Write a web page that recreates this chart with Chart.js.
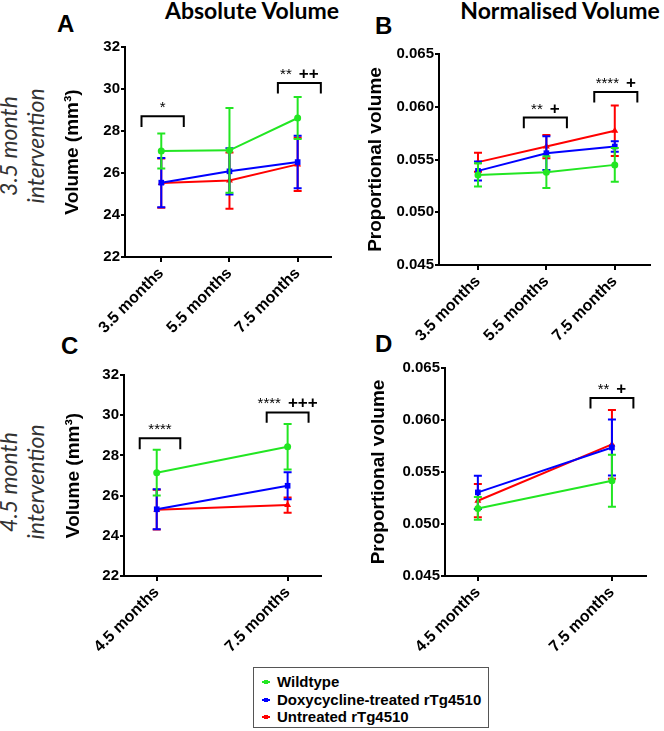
<!DOCTYPE html>
<html>
<head>
<meta charset="utf-8">
<script src="https://cdn.jsdelivr.net/npm/chart.js@4.4.1/dist/chart.umd.min.js"></script>
<style>
  html, body { margin: 0; padding: 0; background: #fff; }
  #fig { position: relative; width: 664px; height: 731px; overflow: hidden; font-family: 'Liberation Sans', Arial, sans-serif; color: #000; }
  #fig canvas { position: absolute; }
  .title { position: absolute; top: -1px; font-family: Lato, 'Liberation Sans', sans-serif; font-weight: bold; font-size: 23px; line-height: 1; white-space: nowrap; transform: translateX(-50%); }
  .letter { position: absolute; font-weight: bold; font-size: 24px; line-height: 1; }
  .row { position: absolute; font-family: Lato, 'Liberation Sans', sans-serif; font-style: italic; font-weight: normal; font-size: 23px; line-height: 27px; text-align: center; white-space: nowrap; color: #333; transform: translate(-50%, -50%) rotate(-90deg); }
  .legend { position: absolute; left: 253px; top: 667px; width: 236px; height: 61px; border: 1px solid #555; box-sizing: border-box; }
  .legend div { position: absolute; left: 23px; font-weight: bold; font-size: 15px; line-height: 18px; white-space: nowrap; }
  .legend i { position: absolute; left: -15px; top: 8px; width: 8px; height: 2px; }
  .legend i::after { content: ''; position: absolute; left: 2px; top: -1px; width: 4px; height: 4px; background: inherit; }
</style>
</head>
<body>
<div id="fig">
  <div class="title" style="left:252px">Absolute Volume</div>
  <div class="title" style="left:560px">Normalised Volume</div>
  <div class="letter" style="left:57px; top:12px">A</div>
  <div class="letter" style="left:375px; top:14px">B</div>
  <div class="letter" style="left:61px; top:334px">C</div>
  <div class="letter" style="left:375px; top:332px">D</div>
  <div class="row" style="left:22px; top:146px">3.5 month<br>intervention</div>
  <div class="row" style="left:22px; top:482px">4.5 month<br>intervention</div>

  <canvas id="chartA" width="274" height="310" style="left:61px; top:27px"></canvas>
  <canvas id="chartB" width="290" height="311" style="left:364px; top:34px"></canvas>
  <canvas id="chartC" width="263" height="301" style="left:62px; top:355px"></canvas>
  <canvas id="chartD" width="283" height="308" style="left:367px; top:348px"></canvas>

  <div class="legend" id="legend"></div>
</div>
<script>
// categories
const monthsAB = ['3.5 months', '5.5 months', '7.5 months'];
const monthsCD = ['4.5 months', '7.5 months'];
const seriesNames = ['Wildtype', 'Doxycycline-treated rTg4510', 'Untreated rTg4510'];
const colors = ['#22e622', '#0000ff', '#ff0000'];
const shapes = ['circle', 'rect', 'triangle'];

// tick values
const absTicks = [22, 24, 26, 28, 30, 32];
const propTicks = [0.045, 0.050, 0.055, 0.060, 0.065];

// A - absolute volume (mm3), 3.5 month intervention: means and SD
const aWild = [27.05, 27.08, 28.62];
const aWildSd = [0.83, 2.02, 1.0];
const aDoxy = [25.54, 26.08, 26.52];
const aDoxySd = [1.17, 1.1, 1.25];
const aUntr = [25.52, 25.64, 26.41];
const aUntrSd = [1.17, 1.34, 1.27];
// bracket: from, to (category units), top, leg end, stars, pluses
const aBrackets = [[-0.29, 0.33, 28.70, 28.19, '*', ''], [1.71, 2.34, 30.29, 29.78, '**', '++']];

// B - proportional volume, 3.5 month intervention
const bWild = [0.05354, 0.0538, 0.05449];
const bWildSd = [0.0011, 0.0015, 0.0016];
const bDoxy = [0.05392, 0.0556, 0.05623];
const bDoxySd = [0.0009, 0.0016, 0.0005];
const bUntr = [0.05475, 0.05623, 0.05772];
const bUntrSd = [0.0009, 0.0011, 0.0024];
const bBrackets = [[0.67, 1.30, 0.05898, 0.05797, '**', '+'], [1.70, 2.33, 0.06139, 0.0604, '****', '+']];

// C - absolute volume (mm3), 4.5 month intervention
const cWild = [27.14, 28.43];
const cWildSd = [1.14, 1.13];
const cDoxy = [25.32, 26.49];
const cDoxySd = [1.0, 0.67];
const cUntr = [25.3, 25.53];
const cUntrSd = [0.99, 0.38];
const cBrackets = [[-0.13, 0.18, 28.85, 28.30, '****', ''], [0.84, 1.16, 30.14, 29.63, '****', '+++']];

// D - proportional volume, 4.5 month intervention
const dWild = [0.0515, 0.05415];
const dWildSd = [0.0011, 0.0025];
const dDoxy = [0.05304, 0.05736];
const dDoxySd = [0.0016, 0.0027];
const dUntr = [0.05224, 0.05765];
const dUntrSd = [0.0016, 0.0033];
const dBrackets = [[0.84, 1.16, 0.06212, 0.0611, '**', '+']];

const yTickFont = { family: "'Liberation Sans', Arial, sans-serif", weight: 'bold', size: 15 };
const xTickFont = { family: "'Liberation Sans', Arial, sans-serif", weight: 'bold', size: 16 };

// error bars drawn with each dataset
const errorBars = {
  id: 'errorBars',
  afterDatasetDraw(chart, args) {
    const ds = chart.data.datasets[args.index];
    const y = chart.scales.y;
    const ctx = chart.ctx;
    ctx.save();
    ctx.strokeStyle = ds.borderColor;
    ctx.lineWidth = 2;
    args.meta.data.forEach((pt, i) => {
      const v = ds.data[i].y, e = ds.sd[i];
      const top = y.getPixelForValue(v + e), bot = y.getPixelForValue(v - e);
      ctx.beginPath();
      ctx.moveTo(pt.x, top); ctx.lineTo(pt.x, bot);
      ctx.moveTo(pt.x - 4, top); ctx.lineTo(pt.x + 4, top);
      ctx.moveTo(pt.x - 4, bot); ctx.lineTo(pt.x + 4, bot);
      ctx.stroke();
    });
    ctx.restore();
  }
};

// significance brackets
const brackets = {
  id: 'brackets',
  afterDraw(chart, args, opts) {
    const ctx = chart.ctx;
    const x = chart.scales.x, y = chart.scales.y;
    (opts.items || []).forEach(b => {
      const x0 = x.getPixelForValue(b[0]), x1 = x.getPixelForValue(b[1]);
      const yt = y.getPixelForValue(b[2]), yl = y.getPixelForValue(b[3]);
      ctx.save();
      ctx.strokeStyle = '#000';
      ctx.lineWidth = 2;
      ctx.beginPath();
      ctx.moveTo(x0, yl); ctx.lineTo(x0, yt); ctx.lineTo(x1, yt); ctx.lineTo(x1, yl);
      ctx.stroke();
      const starFont = "15px 'Liberation Sans', Arial, sans-serif";
      const plusFont = "bold 17px 'Liberation Sans', Arial, sans-serif";
      ctx.font = starFont;
      const ws = ctx.measureText(b[4]).width;
      ctx.font = plusFont;
      const wp = b[5] ? ctx.measureText(b[5]).width : 0;
      const gap = b[5] ? 7 : 0;
      const sx = (x0 + x1) / 2 - (ws + gap + wp) / 2;
      ctx.fillStyle = '#000';
      ctx.textAlign = 'left';
      ctx.textBaseline = 'alphabetic';
      ctx.font = starFont;
      ctx.fillText(b[4], sx, yt - 4);
      if (b[5]) {
        ctx.font = plusFont;
        ctx.fillText(b[5], sx + ws + gap, yt - 4);
      }
      ctx.restore();
    });
  }
};

function makePanel(id, p) {
  const datasets = p.series.map((s, i) => ({
    label: seriesNames[i],
    data: s[0].map((v, j) => ({ x: j, y: v })),
    sd: s[1],
    borderColor: colors[i],
    backgroundColor: colors[i],
    borderWidth: 2,
    pointStyle: shapes[i],
    pointRadius: i === 0 ? 3.5 : 4,
    pointBorderWidth: 0,
    tension: 0
  }));

  new Chart(document.getElementById(id), {
    type: 'line',
    data: { datasets },
    options: {
      responsive: false,
      animation: false,
      layout: { padding: { top: 20, left: 0, right: 0, bottom: 0 } },
      plugins: {
        legend: { display: false },
        tooltip: { enabled: false },
        brackets: { items: p.brackets }
      },
      scales: {
        x: {
          type: 'linear',
          min: p.xMin,
          max: p.xMax,
          afterBuildTicks: sc => { sc.ticks = p.labels.map((l, i) => ({ value: i })); },
          afterFit: sc => { sc.height = 80; },
          ticks: {
            callback: v => p.labels[v],
            autoSkip: false,
            minRotation: 45,
            maxRotation: 45,
            color: '#000',
            font: xTickFont,
            padding: 2
          },
          grid: { drawOnChartArea: false, tickLength: 5, color: '#000', lineWidth: 2 },
          border: { color: '#000', width: 2 }
        },
        y: {
          min: p.yTicks[0],
          max: p.yTicks[p.yTicks.length - 1],
          afterBuildTicks: sc => { sc.ticks = p.yTicks.map(v => ({ value: v })); },
          afterFit: sc => { sc.width = p.yWidth; },
          title: {
            display: true,
            text: p.yTitle,
            color: '#000',
            padding: { top: 0, bottom: 0 },
            font: { family: "'Liberation Sans', Arial, sans-serif", weight: 'bold', size: 19, lineHeight: 1.2 }
          },
          ticks: {
            callback: p.fmt,
            color: '#000',
            font: yTickFont,
            padding: 1
          },
          grid: { drawOnChartArea: false, tickLength: 4, color: '#000', lineWidth: 2 },
          border: { color: '#000', width: 2 }
        }
      }
    },
    plugins: [errorBars, brackets]
  });
}

const fmtAbs = v => String(v);
const fmtProp = v => v.toFixed(3);

makePanel('chartA', {
  labels: monthsAB, xMin: -0.532, xMax: 2.489, yWidth: 64,
  yTicks: absTicks, fmt: fmtAbs, yTitle: 'Volume (mm³)',
  series: [[aWild, aWildSd], [aDoxy, aDoxySd], [aUntr, aUntrSd]],
  brackets: aBrackets
});
makePanel('chartB', {
  labels: monthsAB, xMin: -0.57, xMax: 2.515, yWidth: 75,
  yTicks: propTicks, fmt: fmtProp, yTitle: 'Proportional volume',
  series: [[bWild, bWildSd], [bDoxy, bDoxySd], [bUntr, bUntrSd]],
  brackets: bBrackets
});
makePanel('chartC', {
  labels: monthsCD, xMin: -0.25, xMax: 1.255, yWidth: 62,
  yTicks: absTicks, fmt: fmtAbs, yTitle: 'Volume (mm³)',
  series: [[cWild, cWildSd], [cDoxy, cDoxySd], [cUntr, cUntrSd]],
  brackets: cBrackets
});
makePanel('chartD', {
  labels: monthsCD, xMin: -0.245, xMax: 1.254, yWidth: 78,
  yTicks: propTicks, fmt: fmtProp, yTitle: 'Proportional volume',
  series: [[dWild, dWildSd], [dDoxy, dDoxySd], [dUntr, dUntrSd]],
  brackets: dBrackets
});

// legend box
const legend = document.getElementById('legend');
seriesNames.forEach((name, i) => {
  const item = document.createElement('div');
  item.style.top = (5 + i * 17.7) + 'px';
  item.innerHTML = `<i style="background:${colors[i]}"></i>${name}`;
  legend.appendChild(item);
});
</script>
</body>
</html>
